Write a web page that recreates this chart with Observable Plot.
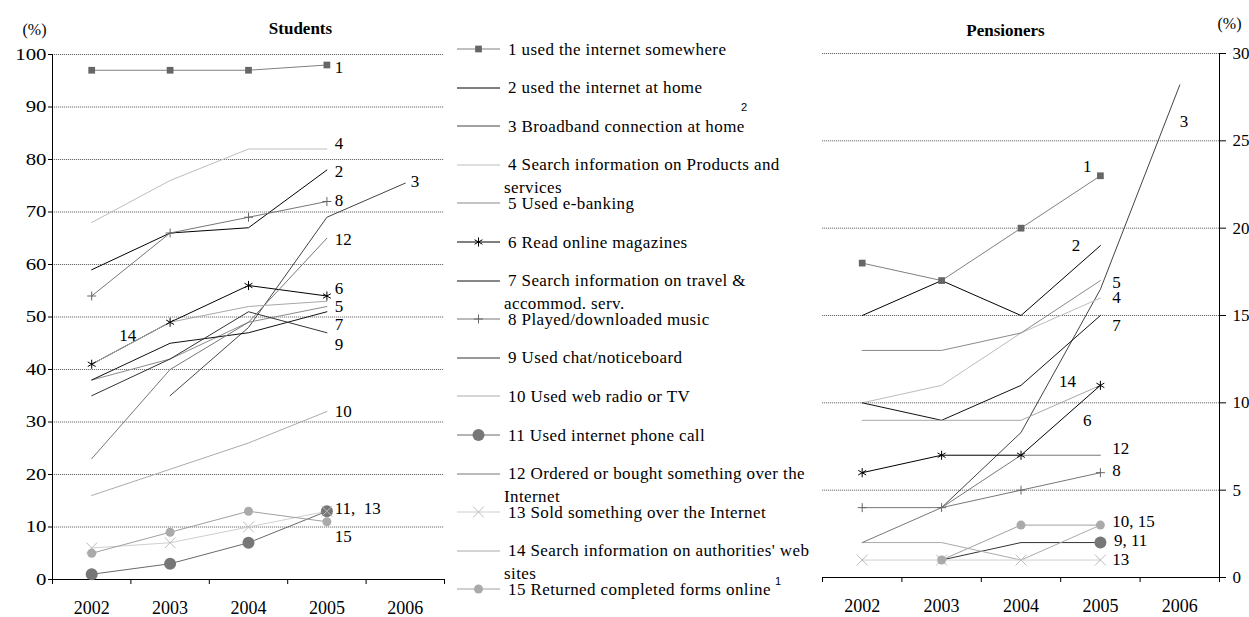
<!DOCTYPE html>
<html>
<head>
<meta charset="utf-8">
<script src="https://cdn.jsdelivr.net/npm/d3@7"></script>
<script src="https://cdn.jsdelivr.net/npm/@observablehq/plot@0.6"></script>
<style>
html, body { margin: 0; padding: 0; background: #fff; overflow: hidden; }
#wrap { position: relative; width: 1249px; height: 617px; overflow: hidden;
  font-family: "Liberation Serif", "Times New Roman", Times, serif; color: #000; }
#wrap svg { max-width: none !important; }
#left { position: absolute; left: 0; top: 0; width: 450px; height: 617px; }
#right { position: absolute; left: 810px; top: 0; width: 450px; height: 617px; }
.lg-text { position: absolute; left: 504px; font-size: 17px; line-height: 23px; white-space: pre;
  text-indent: 4px; letter-spacing: 0.4px; }
.lg-swatch { position: absolute; left: 455px; }
.sup { position: absolute; font-family: "Liberation Sans", Arial, sans-serif; font-size: 11px; line-height: 11px; }
</style>
</head>
<body>
<div id="wrap">
  <div id="left"></div>
  <div id="legend"></div>
  <div id="right"></div>
</div>
<script>
// ---------- data ----------
const years = [2002, 2003, 2004, 2005, 2006];
const axisYearBounds = [2001.5, 2002.5, 2003.5, 2004.5, 2005.5, 2006.5];

const legendLabels = [
  "1 used the internet somewhere",
  "2 used the internet at home",
  "3 Broadband connection at home",
  "4 Search information on Products and\nservices",
  "5 Used e-banking",
  "6 Read online magazines",
  "7 Search information on travel &\naccommod. serv.",
  "8 Played/downloaded music",
  "9 Used chat/noticeboard",
  "10 Used web radio or TV",
  "11 Used internet phone call",
  "12 Ordered or bought something over the\nInternet",
  "13 Sold something over the Internet",
  "14 Search information on authorities' web\nsites",
  "15 Returned completed forms online"
];

// Students (%), 2002..2006
const students1  = [97, 97, 97, 98, null];
const students2  = [59, 66, 67, 78, null];
const students3  = [null, 35, 48, 69, 75.5];
const students4  = [68, 76, 82, 82, null];
const students5  = [38, 42, 49, 52, null];
const students6  = [41, 49, 56, 54, null];
const students7  = [38, 45, 47, 51, null];
const students8  = [54, 66, 69, 72, null];
const students9  = [35, 42, 51, 47, null];
const students10 = [16, 21, 26, 32, null];
const students11 = [1, 3, 7, 13, null];
const students12 = [23, 40, 49, 65, null];
const students13 = [6, 7, 10, 13, null];
const students14 = [41, 49, 52, 53, null];
const students15 = [5, 9, 13, 11, null];

// Pensioners (%), 2002..2006
const pensioners1  = [18, 17, 20, 23, null];
const pensioners2  = [15, 17, 15, 19, null];
const pensioners3  = [null, 4, 8.3, 16.5, 28.2];
const pensioners4  = [10, 11, 14, 16, null];
const pensioners5  = [13, 13, 14, 17, null];
const pensioners6  = [6, 7, 7, 11, null];
const pensioners7  = [10, 9, 11, 15, null];
const pensioners8  = [4, 4, 5, 6, null];
const pensioners9  = [null, 1, 2, 2, null];
const pensioners10 = [2, 2, 1, 3, null];
const pensioners11 = [null, null, null, 2, null];
const pensioners12 = [2, 4, 7, 7, null];
const pensioners13 = [1, 1, 1, 1, null];
const pensioners14 = [9, 9, 9, 11, null];
const pensioners15 = [null, 1, 3, 3, null];

// series-number labels next to the lines (data coordinates)
const studentLabelText  = ["1", "4", "2", "8", "3", "12", "6", "5", "7", "9", "14", "10", "11,  13", "15"];
const studentLabelYear  = [2005.1, 2005.1, 2005.1, 2005.1, 2006.07, 2005.1, 2005.1, 2005.1, 2005.1, 2005.1, 2002.35, 2005.1, 2005.1, 2005.1];
const studentLabelValue = [97.5, 83.1, 77.8, 72.2, 75.8, 64.7, 55.5, 52, 48.6, 44.7, 46.5, 31.9, 13.5, 8.2];

const pensionerLabelText  = ["1", "2", "3", "5", "4", "7", "14", "6", "12", "8", "10, 15", "9, 11", "13"];
const pensionerLabelYear  = [2004.78, 2004.64, 2006.0, 2005.15, 2005.15, 2005.15, 2004.48, 2004.78, 2005.15, 2005.15, 2005.15, 2005.17, 2005.15];
const pensionerLabelValue = [23.5, 19.0, 26.1, 16.9, 16.0, 14.4, 11.2, 9.0, 7.4, 6.1, 3.2, 2.1, 1.0];

// ---------- styles ----------
const FONT = '"Liberation Serif", "Times New Roman", Times, serif';
const seriesStyles = [
  {stroke: "#808080", symbol: "square",   mfill: "#666",  r: 3.8},
  {stroke: "#000"},
  {stroke: "#444"},
  {stroke: "#bdbdbd"},
  {stroke: "#8a8a8a"},
  {stroke: "#000",    symbol: "asterisk", mstroke: "#000", r: 4.3},
  {stroke: "#111"},
  {stroke: "#777",    symbol: "plus",     mstroke: "#666", r: 3},
  {stroke: "#333"},
  {stroke: "#ababab"},
  {stroke: "#6a6a6a", symbol: "circle",   mfill: "#777",  r: 6},
  {stroke: "#777"},
  {stroke: "#cfcfcf", symbol: "times",    mstroke: "#bbb", r: 5},
  {stroke: "#a8a8a8"},
  {stroke: "#a0a0a0", symbol: "circle",   mfill: "#aaa",  r: 4.5}
];

const studentsAll = [students1, students2, students3, students4, students5, students6, students7, students8,
  students9, students10, students11, students12, students13, students14, students15];
const pensionersAll = [pensioners1, pensioners2, pensioners3, pensioners4, pensioners5, pensioners6, pensioners7,
  pensioners8, pensioners9, pensioners10, pensioners11, pensioners12, pensioners13, pensioners14, pensioners15];

function rows(values, id) {
  return years.map((year, i) => ({year, value: values[i], id})).filter(d => d.value != null);
}

function seriesMarks(all) {
  const marks = [];
  all.forEach((vals, i) => {
    const st = seriesStyles[i];
    marks.push(Plot.line(rows(vals, i + 1), {x: "year", y: "value", stroke: st.stroke, strokeWidth: 1}));
  });
  all.forEach((vals, i) => {
    const st = seriesStyles[i];
    if (!st.symbol) return;
    marks.push(Plot.dot(rows(vals, i + 1), {
      x: "year", y: "value", symbol: st.symbol, r: st.r,
      fill: st.mfill || "none", stroke: st.mstroke || "none", strokeWidth: 1
    }));
  });
  return marks;
}

function labelRows(text, yearPos, value) {
  return text.map((t, i) => ({t, x: yearPos[i], y: value[i]}));
}

const gridStyle = {stroke: "#6e6e6e", strokeOpacity: 1, strokeDasharray: "1.2,0.8", strokeWidth: 1};

// ---------- Students ----------
const studentTicks = d3.range(0, 101, 10);
const left = Plot.plot({
  width: 450, height: 617,
  marginLeft: 52, marginRight: 6, marginTop: 54, marginBottom: 38,
  x: {domain: [2001.5, 2006.5], label: null},
  y: {domain: [0, 100], label: null},
  style: {fontFamily: FONT, fontSize: "17px", background: "transparent", color: "#000", overflow: "visible"},
  marks: [
    Plot.gridY(studentTicks.filter(d => d > 0), gridStyle),
    Plot.ruleY([0], {stroke: "#000"}),
    Plot.ruleX([2001.5], {y1: 0, y2: 100, stroke: "#000"}),
    Plot.axisY({ticks: studentTicks, tickSize: 4, tickPadding: 2, fontSize: 16, label: null, stroke: "#000"}),
    Plot.axisX({ticks: axisYearBounds, tickSize: 5, tickFormat: () => "", label: null, stroke: "#000"}),
    Plot.axisX({ticks: years, tickSize: 0, tickPadding: 22, tickFormat: d => String(d), fontSize: 18, label: null}),
    ...seriesMarks(studentsAll),
    Plot.text(labelRows(studentLabelText, studentLabelYear, studentLabelValue),
      {x: "x", y: "y", text: "t", textAnchor: "start", fontSize: 17, fill: "#000"}),
    Plot.text(["(%)"], {frameAnchor: "top-left", dx: -18, dy: -25, textAnchor: "middle", lineAnchor: "middle", fontSize: 16}),
    Plot.text(["Students"], {frameAnchor: "top", dx: 52, dy: -26, lineAnchor: "middle", fontSize: 17, fontWeight: "bold"})
  ]
});
document.getElementById("left").appendChild(left);

// widen the left y tick labels like the reference's stretched digits
d3.select(left).selectAll("g[aria-label='y-axis tick label'] text").each(function() {
  const w = this.getComputedTextLength();
  if (w > 0) {
    this.setAttribute("textLength", (w * 1.3).toFixed(1));
    this.setAttribute("lengthAdjust", "spacingAndGlyphs");
  }
});

// ---------- Pensioners ----------
const pensionerTicks = d3.range(0, 31, 5);
const right = Plot.plot({
  width: 450, height: 617,
  marginLeft: 12, marginRight: 41, marginTop: 53, marginBottom: 40,
  x: {domain: [2001.5, 2006.5], label: null},
  y: {domain: [0, 30], label: null},
  style: {fontFamily: FONT, fontSize: "17px", background: "transparent", color: "#000", overflow: "visible"},
  marks: [
    Plot.gridY(pensionerTicks.filter(d => d > 0), gridStyle),
    Plot.ruleY([0], {stroke: "#000"}),
    Plot.ruleX([2006.5], {y1: 0, y2: 30, stroke: "#000"}),
    Plot.axisY({anchor: "right", ticks: pensionerTicks, tickSize: 6, tickPadding: 7, fontSize: 17, label: null, stroke: "#000"}),
    Plot.axisX({ticks: axisYearBounds, tickSize: 5, tickFormat: () => "", label: null, stroke: "#000"}),
    Plot.axisX({ticks: years, tickSize: 0, tickPadding: 22, tickFormat: d => String(d), fontSize: 18, label: null}),
    ...seriesMarks(pensionersAll),
    Plot.text(labelRows(pensionerLabelText, pensionerLabelYear, pensionerLabelValue),
      {x: "x", y: "y", text: "t", textAnchor: "start", fontSize: 17, fill: "#000"}),
    Plot.text(["(%)"], {frameAnchor: "top-right", dx: 10, dy: -30, textAnchor: "middle", lineAnchor: "middle", fontSize: 16}),
    Plot.text(["Pensioners"], {frameAnchor: "top", dx: -15.5, dy: -23, lineAnchor: "middle", fontSize: 17, fontWeight: "bold"})
  ]
});
document.getElementById("right").appendChild(right);

// ---------- Legend ----------
const symbolTypes = {square: d3.symbolSquare, asterisk: d3.symbolAsterisk, plus: d3.symbolPlus,
  times: d3.symbolTimes, circle: d3.symbolCircle};
const legend = d3.select("#legend");
legendLabels.forEach((label, i) => {
  const cy = 49 + i * 38.6;
  const st = seriesStyles[i];
  const sw = legend.append("svg").attr("class", "lg-swatch")
    .attr("width", 50).attr("height", 20)
    .style("top", (cy - 10) + "px");
  sw.append("line").attr("x1", 2).attr("x2", 45).attr("y1", 10).attr("y2", 10)
    .attr("stroke", st.stroke).attr("stroke-width", 1);
  if (st.symbol) {
    sw.append("path")
      .attr("d", d3.symbol(symbolTypes[st.symbol], Math.PI * st.r * st.r)())
      .attr("transform", "translate(23.5,10)")
      .attr("fill", st.mfill || "none").attr("stroke", st.mstroke || "none");
  }
  legend.append("div").attr("class", "lg-text").style("top", (cy - 11.5) + "px").text(label);
});
legend.append("div").attr("class", "sup").style("left", "741px").style("top", "102px").text("2");
legend.append("div").attr("class", "sup").style("left", "775px").style("top", "576px").text("1");
</script>
</body>
</html>
